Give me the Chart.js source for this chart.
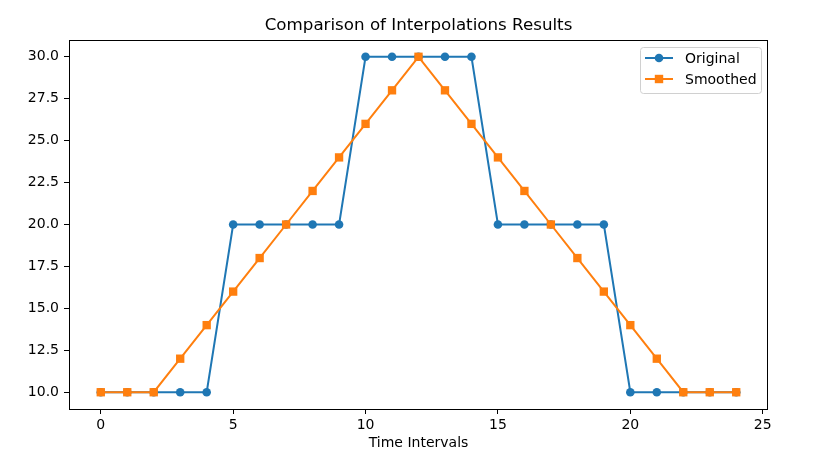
<!DOCTYPE html>
<html>
<head>
<meta charset="utf-8">
<script src="https://cdn.jsdelivr.net/npm/chart.js@4/dist/chart.umd.min.js"></script>
<style>
  html, body { margin: 0; padding: 0; background: #fff; }
  #wrap { width: 836px; height: 457px; }
</style>
</head>
<body>
<div id="wrap"><canvas id="c" width="836" height="457"></canvas></div>
<script>
const timeIntervals = [0,1,2,3,4,5,6,7,8,9,10,11,12,13,14,15,16,17,18,19,20,21,22,23,24];
const originalValues = [10,10,10,10,10,20,20,20,20,20,30,30,30,30,30,20,20,20,20,20,10,10,10,10,10];
const smoothedValues = [10,10,10,12,14,16,18,20,22,24,26,28,30,28,26,24,22,20,18,16,14,12,10,10,10];
const xTicks = [0,5,10,15,20,25];
const yTicks = [10,12.5,15,17.5,20,22.5,25,27.5,30];
const seriesNames = ['Original', 'Smoothed'];
const titleText = 'Comparison of Interpolations Results';
const xLabel = 'Time Intervals';

const FONT = "'DejaVu Sans', sans-serif";
const BLUE = '#1f77b4', ORANGE = '#ff7f0e';

const toPts = (ys) => timeIntervals.map((x, i) => ({x: x, y: ys[i]}));

const frame = {
  id: 'frame',
  afterDraw(chart) {
    const {ctx, chartArea: a} = chart;
    ctx.save();
    // title centered over the axes
    ctx.fillStyle = '#000';
    ctx.font = '16.7px ' + FONT;
    ctx.textAlign = 'center';
    ctx.textBaseline = 'middle';
    ctx.fillText(titleText, (a.left + a.right) / 2, 26);
    // spines
    ctx.strokeStyle = '#000';
    ctx.lineWidth = 1;
    ctx.strokeRect(Math.round(a.left) + 0.5, Math.round(a.top) + 0.5,
                   Math.round(a.right) - Math.round(a.left) - 1, Math.round(a.bottom) - Math.round(a.top));
    // legend
    const bx = 640.5, by = 47.5, bw = 121, bh = 46, r = 3;
    ctx.beginPath();
    ctx.moveTo(bx + r, by);
    ctx.arcTo(bx + bw, by, bx + bw, by + bh, r);
    ctx.arcTo(bx + bw, by + bh, bx, by + bh, r);
    ctx.arcTo(bx, by + bh, bx, by, r);
    ctx.arcTo(bx, by, bx + bw, by, r);
    ctx.closePath();
    ctx.fillStyle = 'rgba(255,255,255,0.8)';
    ctx.fill();
    ctx.strokeStyle = '#d0d0d0';
    ctx.stroke();
    chart.data.datasets.forEach((ds, i) => {
      const y = 58 + i * 21;
      ctx.strokeStyle = ds.borderColor;
      ctx.lineWidth = 2;
      ctx.beginPath();
      ctx.moveTo(645, y);
      ctx.lineTo(673, y);
      ctx.stroke();
      ctx.fillStyle = ds.backgroundColor;
      if (ds.pointStyle === 'rect') {
        ctx.fillRect(659 - 4.2, y - 4.2, 8.4, 8.4);
      } else {
        ctx.beginPath();
        ctx.arc(659, y, 4.3, 0, Math.PI * 2);
        ctx.fill();
      }
      ctx.fillStyle = '#000';
      ctx.font = '14px ' + FONT;
      ctx.textBaseline = 'middle';
      ctx.textAlign = 'left';
      ctx.fillText(ds.label, 685, y + 1);
    });
    ctx.restore();
  }
};

new Chart(document.getElementById('c'), {
  type: 'line',
  data: {
    datasets: [
      { label: seriesNames[0], data: toPts(originalValues), borderColor: BLUE, backgroundColor: BLUE,
        borderWidth: 2, pointStyle: 'circle', pointRadius: 4.3, pointBorderWidth: 0, order: 1, tension: 0 },
      { label: seriesNames[1], data: toPts(smoothedValues), borderColor: ORANGE, backgroundColor: ORANGE,
        borderWidth: 2, pointStyle: 'rect', pointRadius: 5.9, pointBorderWidth: 0, order: 0, tension: 0 }
    ]
  },
  options: {
    responsive: false,
    animation: false,
    layout: { padding: { top: 40, right: 68, bottom: 0, left: 0 } },
    plugins: {
      legend: { display: false },
      tooltip: { enabled: false },
      title: { display: false }
    },
    scales: {
      x: {
        type: 'linear', min: -1.2, max: 25.2,
        afterBuildTicks: (s) => { s.ticks = xTicks.map(v => ({value: v})); },
        afterFit: (s) => { s.height = 48; },
        grid: { display: true, drawOnChartArea: false, drawTicks: true, tickLength: 5, color: '#000', lineWidth: 1 },
        border: { display: false },
        ticks: { color: '#000', font: { family: FONT, size: 14 }, padding: 3, maxRotation: 0,
                 callback: (v) => String(v) },
        title: { display: true, text: xLabel, color: '#000', font: { family: FONT, size: 14 }, padding: { top: 0, bottom: 5 } }
      },
      y: {
        type: 'linear', min: 9, max: 31,
        afterBuildTicks: (s) => { s.ticks = yTicks.map(v => ({value: v})); },
        afterFit: (s) => { s.width = 69; },
        grid: { display: true, drawOnChartArea: false, drawTicks: true, tickLength: 5, color: '#000', lineWidth: 1 },
        border: { display: false },
        ticks: { color: '#000', font: { family: FONT, size: 14 }, padding: 5,
                 callback: (v) => Number(v).toFixed(1) }
      }
    }
  },
  plugins: [frame]
});
</script>
</body>
</html>
